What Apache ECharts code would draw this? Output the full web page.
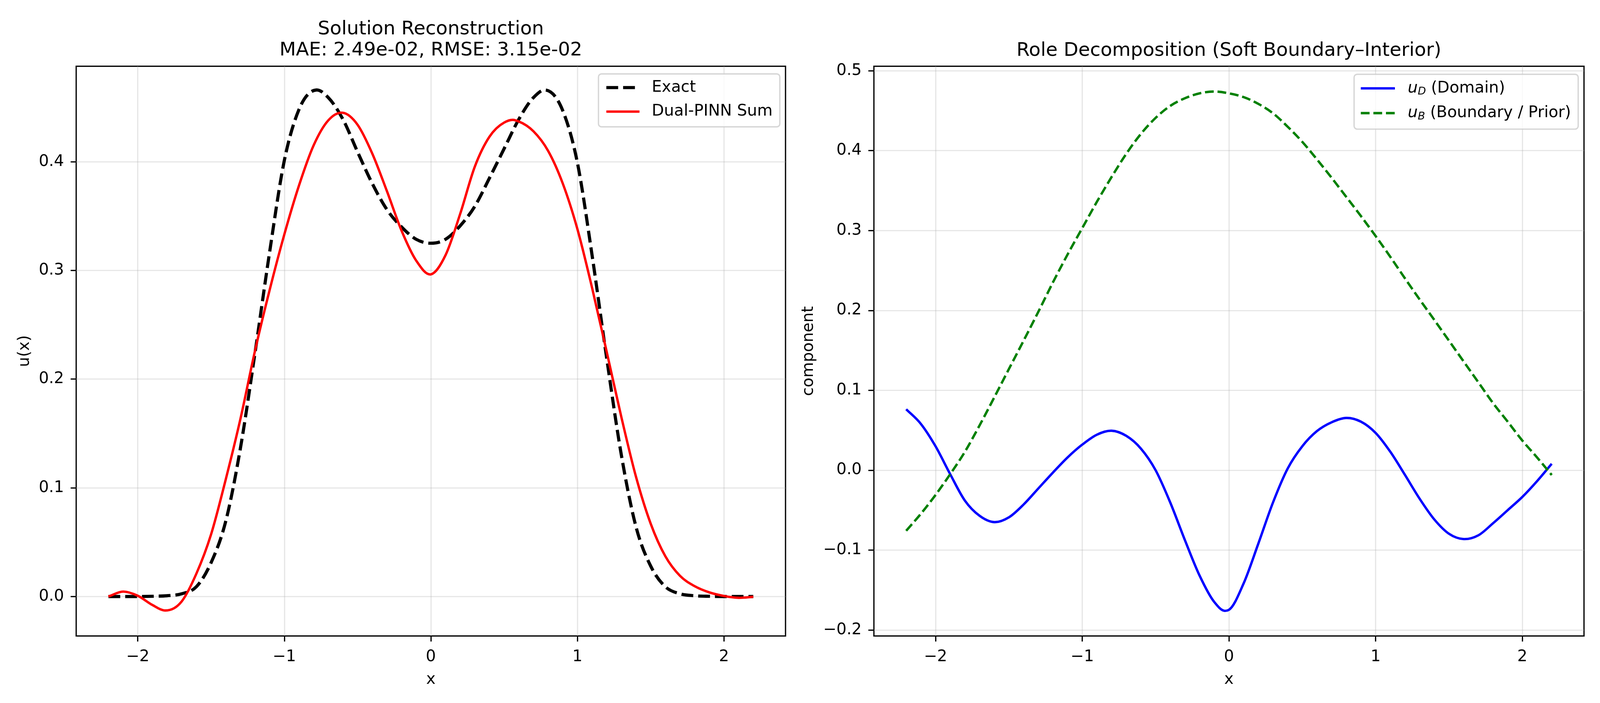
<!DOCTYPE html>
<html>
<head>
<meta charset="utf-8">
<script src="https://cdn.jsdelivr.net/npm/echarts@6/dist/echarts.min.js"></script>
<style>html,body{margin:0;padding:0;background:#fff;overflow:hidden}#c{width:100vw;height:100vh}</style>
</head>
<body>
<div id="c"></div>
<script>
// ---- data ----
const exactX = [-2.2,-2.1,-2.0,-1.9,-1.8,-1.7,-1.6,-1.5,-1.4,-1.3,-1.2,-1.1,-1.0,-0.9,-0.78,-0.7,-0.6,-0.5,-0.4,-0.3,-0.2,-0.1,0,0.1,0.2,0.3,0.4,0.5,0.6,0.7,0.78,0.9,1.0,1.1,1.2,1.3,1.4,1.5,1.6,1.7,1.8,1.9,2.0,2.1,2.2];
const exactY = [0,0,0,0.0002,0.0007,0.0025,0.009,0.031,0.069,0.136,0.224,0.317,0.401,0.448,0.466,0.459,0.439,0.409,0.380,0.356,0.340,0.3286,0.325,0.3286,0.341,0.359,0.385,0.412,0.439,0.459,0.466,0.447,0.399,0.314,0.219,0.130,0.064,0.028,0.009,0.0025,0.0007,0.0002,0,0,0];

const sumX = [-2.2,-2.1,-2.0,-1.9,-1.82,-1.7,-1.6,-1.5,-1.4,-1.3,-1.2,-1.1,-1.0,-0.9,-0.8,-0.7,-0.6,-0.5,-0.4,-0.3,-0.2,-0.1,0,0.1,0.2,0.3,0.4,0.5,0.56,0.6,0.7,0.8,0.9,1.0,1.1,1.2,1.3,1.4,1.5,1.6,1.7,1.8,1.9,2.0,2.1,2.2];
const sumY = [0,0.0045,0.0007,-0.0078,-0.0128,-0.0045,0.021,0.057,0.1075,0.163,0.226,0.282,0.333,0.378,0.415,0.438,0.445,0.434,0.4076,0.373,0.3366,0.309,0.2964,0.314,0.352,0.3955,0.423,0.436,0.4385,0.437,0.428,0.410,0.380,0.338,0.284,0.225,0.165,0.110,0.067,0.037,0.019,0.0095,0.0038,0.0005,-0.0012,-0.0003];

const domX = [-2.2,-2.1,-2.0,-1.9,-1.8,-1.7,-1.6,-1.5,-1.4,-1.3,-1.2,-1.1,-1.0,-0.9,-0.8,-0.7,-0.6,-0.5,-0.4,-0.3,-0.2,-0.1,-0.03,0,0.1,0.2,0.3,0.4,0.5,0.6,0.7,0.8,0.9,1.0,1.1,1.2,1.3,1.4,1.5,1.6,1.7,1.8,1.9,2.0,2.1,2.2];
const domY = [0.0763,0.058,0.030,-0.005,-0.038,-0.057,-0.065,-0.059,-0.043,-0.023,-0.003,0.016,0.032,0.0445,0.0494,0.043,0.027,0.0,-0.0405,-0.0876,-0.132,-0.165,-0.176,-0.1747,-0.1417,-0.092,-0.0405,0.002,0.030,0.049,0.060,0.0654,0.0607,0.0466,0.023,-0.006,-0.0358,-0.0617,-0.0796,-0.0862,-0.0815,-0.0664,-0.050,-0.0334,-0.0137,0.008];

const bndX = [-2.2,-2.1,-2.0,-1.9,-1.8,-1.7,-1.6,-1.5,-1.4,-1.3,-1.2,-1.1,-1.0,-0.9,-0.8,-0.7,-0.6,-0.5,-0.4,-0.3,-0.2,-0.1,0,0.1,0.2,0.3,0.4,0.5,0.6,0.7,0.8,0.9,1.0,1.1,1.2,1.3,1.4,1.5,1.6,1.7,1.8,1.9,2.0,2.1,2.2];
const bndY = [-0.0758,-0.0546,-0.031,-0.005,0.023,0.056,0.091,0.1266,0.162,0.198,0.235,0.270,0.303,0.336,0.367,0.396,0.421,0.441,0.456,0.4656,0.4717,0.474,0.4717,0.467,0.4586,0.4468,0.430,0.411,0.389,0.366,0.342,0.318,0.293,0.267,0.240,0.2137,0.188,0.162,0.136,0.110,0.084,0.0607,0.037,0.016,-0.006];

const xTicks = [-2,-1,0,1,2];
const yTicksLeft = [0,0.1,0.2,0.3,0.4];
const yTicksRight = [-0.2,-0.1,0,0.1,0.2,0.3,0.4,0.5];

const titleLeft = 'Solution Reconstruction\nMAE: 2.49e-02, RMSE: 3.15e-02';
const titleRight = 'Role Decomposition (Soft Boundary\u2013Interior)';
const legendLeft = ['Exact', 'Dual-PINN Sum'];
const legendRight = ['u_D (Domain)', 'u_B (Boundary / Prior)'];

// ---- styling (designed for 4200x1800, scaled to the real viewport) ----
const S = (document.documentElement.clientWidth || window.innerWidth) / 4200;
const p = v => v * S;
const FONT = 'DejaVu Sans';
const FS = p(41.7);
const LW = p(3.3);
const GRIDC = 'rgba(176,176,176,0.3)';
const pairs = (xs, ys) => xs.map((x, i) => [x, ys[i]]);
const fmtX = v => (v < 0 ? '\u2212' : '') + Math.abs(Math.round(v));
const fmtY = v => (v < -1e-9 ? '\u2212' : '') + Math.abs(v).toFixed(1);

// smooth curve (cubic Hermite, x-parametrised) through points already mapped by the axes
function curvePath(pts) {
  const n = pts.length;
  const m = new Array(n);
  for (let i = 0; i < n; i++) {
    if (i === 0) m[i] = (pts[1][1] - pts[0][1]) / (pts[1][0] - pts[0][0]);
    else if (i === n - 1) m[i] = (pts[n - 1][1] - pts[n - 2][1]) / (pts[n - 1][0] - pts[n - 2][0]);
    else {
      const h0 = pts[i][0] - pts[i - 1][0], h1 = pts[i + 1][0] - pts[i][0];
      const d0 = (pts[i][1] - pts[i - 1][1]) / h0, d1 = (pts[i + 1][1] - pts[i][1]) / h1;
      m[i] = (d0 * h1 + d1 * h0) / (h0 + h1);
    }
  }
  let d = 'M' + pts[0][0] + ' ' + pts[0][1];
  for (let i = 0; i < n - 1; i++) {
    const h = pts[i + 1][0] - pts[i][0];
    d += ' C' + (pts[i][0] + h / 3) + ' ' + (pts[i][1] + m[i] * h / 3) + ' ' +
         (pts[i + 1][0] - h / 3) + ' ' + (pts[i + 1][1] - m[i + 1] * h / 3) + ' ' +
         pts[i + 1][0] + ' ' + pts[i + 1][1];
  }
  return d;
}
function curveSeries(name, xi, yi, xs, ys, style) {
  return {
    type: 'custom', name: name, xAxisIndex: xi, yAxisIndex: yi, data: pairs(xs, ys),
    renderItem: function (params, api) {
      if (params.dataIndex !== 0) return null;
      const pts = xs.map((x, i) => api.coord([x, ys[i]]));
      return { type: 'path', shape: { pathData: curvePath(pts) },
               style: Object.assign({ fill: null, lineCap: 'butt', lineJoin: 'round' }, style) };
    }
  };
}
function legendCarrier(name, xi, yi, ls) {
  return { type: 'line', name: name, xAxisIndex: xi, yAxisIndex: yi, data: [], symbol: 'none',
           lineStyle: ls, itemStyle: { color: ls.color } };
}

function xAxis(gi) {
  return {
    gridIndex: gi, type: 'value', min: -2.42, max: 2.42,
    axisLine: { show: false, onZero: false },
    axisTick: { show: true, length: p(14.6), customValues: xTicks, lineStyle: { color: '#000', width: LW } },
    axisLabel: { customValues: xTicks, formatter: fmtX, fontSize: FS, fontFamily: FONT, color: '#000', margin: p(34) },
    splitLine: { show: true, lineStyle: { color: GRIDC, width: LW } },
    name: 'x', nameLocation: 'middle', nameGap: p(94),
    nameTextStyle: { fontSize: FS, fontFamily: FONT, color: '#000' }
  };
}
function yAxis(gi, min, max, ticks, name, gap) {
  return {
    gridIndex: gi, type: 'value', min: min, max: max,
    axisLine: { show: false, onZero: false },
    axisTick: { show: true, length: p(14.6), customValues: ticks, lineStyle: { color: '#000', width: LW } },
    axisLabel: { customValues: ticks, formatter: fmtY, fontSize: FS, fontFamily: FONT, color: '#000', margin: p(32) },
    splitLine: { show: true, lineStyle: { color: GRIDC, width: LW } },
    name: name, nameLocation: 'middle', nameGap: p(gap),
    nameTextStyle: { fontSize: FS, fontFamily: FONT, color: '#000' }
  };
}
const titleStyle = { fontSize: p(50), fontWeight: 'normal', fontFamily: FONT, color: '#000', lineHeight: p(55) };
const legendBase = {
  orient: 'vertical', itemGap: p(19), itemHeight: p(20),
  backgroundColor: 'rgba(255,255,255,0.8)', borderColor: 'rgba(204,204,204,0.8)',
  borderWidth: p(3.5), borderRadius: p(8),
  itemStyle: { opacity: 0, color: 'transparent', borderWidth: 0 }
};

const styleExact = { color: '#000000', width: p(8.33), type: [p(31), p(13)] };
const styleSum = { color: '#ff0000', width: p(6.25), type: 'solid' };
const styleDom = { color: '#0000ff', width: p(6.25), type: 'solid' };
const styleBnd = { color: '#008000', width: p(6.25), type: [p(23), p(10)] };
const toDraw = ls => ({ stroke: ls.color, lineWidth: ls.width, lineDash: Array.isArray(ls.type) ? ls.type : null });

const chart = echarts.init(document.getElementById('c'), null, { renderer: 'canvas' });
chart.setOption({
  animation: false,
  backgroundColor: '#fff',
  title: [
    { text: titleLeft, left: p(1131), top: p(50), textAlign: 'center', padding: 0, textStyle: titleStyle },
    { text: titleRight, left: p(3226), top: p(106), textAlign: 'center', padding: 0, textStyle: titleStyle }
  ],
  grid: [
    { left: p(200), right: p(2138), top: p(174), bottom: p(176), show: true, borderColor: '#000', borderWidth: LW, backgroundColor: 'transparent', outerBoundsMode: 'none' },
    { left: p(2294), right: p(42), top: p(174), bottom: p(176), show: true, borderColor: '#000', borderWidth: LW, backgroundColor: 'transparent', outerBoundsMode: 'none' }
  ],
  xAxis: [xAxis(0), xAxis(1)],
  yAxis: [
    yAxis(0, -0.0363, 0.4878, yTicksLeft, 'u(x)', 114),
    yAxis(1, -0.2075, 0.5056, yTicksRight, 'component', 150)
  ],
  legend: [
    Object.assign({}, legendBase, {
      data: [
        { name: legendLeft[0], lineStyle: { width: styleExact.width, opacity: 1 } },
        { name: legendLeft[1], lineStyle: { width: styleSum.width, opacity: 1 } }
      ],
      left: p(1571), top: p(194), padding: [p(14), p(19), p(18), p(16.5)], itemWidth: p(87),
      textStyle: { fontSize: FS, fontFamily: FONT, color: '#000', lineHeight: p(44), padding: [0, 0, 0, p(27)] }
    }),
    Object.assign({}, legendBase, {
      data: [
        { name: legendRight[0], lineStyle: { width: styleDom.width, opacity: 1 } },
        { name: legendRight[1], lineStyle: { width: styleBnd.width, opacity: 1 } }
      ],
      left: p(3554.5), top: p(195), padding: [p(14), p(19), p(19), p(14.5)], itemWidth: p(89.5),
      formatter: function (name) {
        if (name === legendRight[0]) return '{i|u}{s|D}{t| (Domain)}';
        return '{i|u}{s|B}{t| (Boundary / Prior)}';
      },
      textStyle: {
        fontSize: FS, fontFamily: FONT, color: '#000', lineHeight: p(46), padding: [0, 0, 0, p(28.5)],
        rich: {
          i: { fontSize: FS, fontFamily: FONT, fontStyle: 'italic', color: '#000', lineHeight: p(46) },
          s: { fontSize: p(28), fontFamily: FONT, fontStyle: 'italic', color: '#000', lineHeight: p(26), verticalAlign: 'bottom' },
          t: { fontSize: FS, fontFamily: FONT, color: '#000', lineHeight: p(46) }
        }
      }
    })
  ],
  series: [
    legendCarrier(legendLeft[0], 0, 0, styleExact),
    legendCarrier(legendLeft[1], 0, 0, styleSum),
    legendCarrier(legendRight[0], 1, 1, styleDom),
    legendCarrier(legendRight[1], 1, 1, styleBnd),
    curveSeries(legendLeft[0], 0, 0, exactX, exactY, toDraw(styleExact)),
    curveSeries(legendLeft[1], 0, 0, sumX, sumY, toDraw(styleSum)),
    curveSeries(legendRight[0], 1, 1, domX, domY, toDraw(styleDom)),
    curveSeries(legendRight[1], 1, 1, bndX, bndY, toDraw(styleBnd))
  ]
});
</script>
</body>
</html>
